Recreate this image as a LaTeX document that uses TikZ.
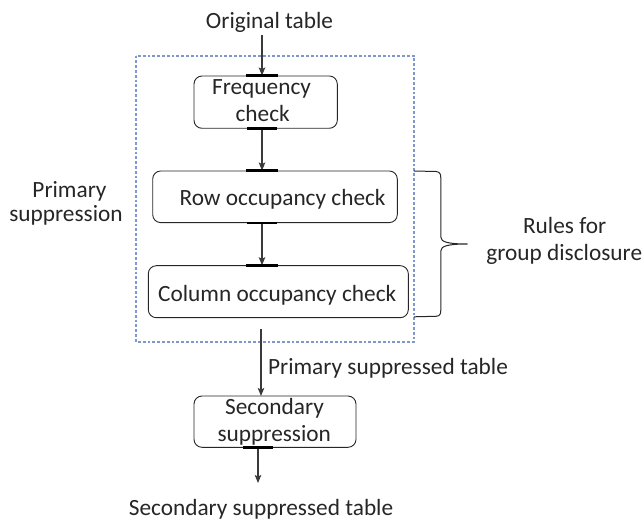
\documentclass[tikz,border=0pt]{standalone}
\usepackage{fontspec}
\setmainfont{Carlito}
\usetikzlibrary{arrows.meta}
\definecolor{inkgray}{HTML}{262626}
\definecolor{linegray}{HTML}{3A3A3A}
\definecolor{groupblue}{HTML}{7F96D2}
\tikzset{
  procbox/.style={draw=inkgray, line width=0.9pt, rounded corners=8pt, inner sep=0pt},
  txt/.style={anchor=base, inner sep=0pt, text=inkgray, font=\fontsize{23.3}{27}\selectfont},
  flow/.style={draw=linegray, line width=1.1pt, -{Stealth[length=8pt, width=6.5pt, inset=1.5pt]}},
  portbar/.style={draw=black, line width=2.6pt},
  groupframe/.style={draw=groupblue, line width=1.7pt, dash pattern=on 2.8pt off 2pt},
  bracestyle/.style={draw=inkgray, line width=1pt}
}
\begin{document}
\begin{tikzpicture}[x=1pt, y=-1pt]
  \useasboundingbox (0,0) rectangle (643,521);

  % group frame around the primary suppression steps
  \draw[groupframe] (136,55.7) rectangle (414,341.7);

  % process boxes
  \node[procbox, minimum width=143.3pt, minimum height=52.3pt] (freq) at (265.65,102.15) {};
  \node[procbox, minimum width=244.6pt, minimum height=51.6pt] (row) at (275,196.8) {};
  \node[procbox, minimum width=260pt, minimum height=52pt] (col) at (278.3,291.7) {};
  \node[procbox, minimum width=162pt, minimum height=51.3pt] (sec) at (275,421.65) {};

  % box texts
  \node[txt] (freqA) at (261.5,95) {Frequency};
  \node[txt] (freqB) at (262.7,122) {check};
  \node[txt] (rowt) at (282.6,205.7) {Row occupancy check};
  \node[txt] (colt) at (277.2,301.7) {Column occupancy check};
  \node[txt] (secA) at (274.5,415) {Secondary};
  \node[txt] (secB) at (274.3,441.7) {suppression};

  % free labels
  \node[txt] (orig) at (269.5,29) {Original table};
  \node[txt] (primA) at (69.5,198) {Primary};
  \node[txt] (primB) at (66,221.5) {suppression};
  \node[txt] (pst) at (388,375) {Primary suppressed table};
  \node[txt] (sst) at (261,515) {Secondary suppressed table};
  \node[txt] (rulesA) at (564.7,234) {Rules for};
  \node[txt] (rulesB) at (564.3,260.5) {group disclosure};

  % connection points
  \coordinate (spine) at (262,0);
  \coordinate (origEnd) at (262,35);
  \coordinate (colOut) at (261,329);
  \coordinate (secIn) at (261,396);
  \coordinate (secOut) at (258,447.3);
  \coordinate (finalEnd) at (258,483);

  % connectors
  \draw[flow] (origEnd) -- (freq.north -| spine);
  \draw[flow] (freq.south -| spine) -- (row.north -| spine);
  \draw[flow] (row.south -| spine) -- (col.north -| spine);
  \draw[flow] (colOut) -- (secIn);
  \draw[flow] (secOut) -- (finalEnd);

  % short thick bars where connectors meet the boxes
  \draw[portbar] (freq.north -| spine) ++(-16,0) -- ++(31.7,0);
  \draw[portbar] (freq.south -| spine) ++(-15,0) -- ++(30,0);
  \draw[portbar] (row.north -| spine) ++(-16,0) -- ++(31.7,0);
  \draw[portbar] (row.south -| spine) ++(-15,0) -- ++(30,0);
  \draw[portbar] (col.north -| spine) ++(-16,0) -- ++(31.7,0);
  \draw[portbar] (sec.south -| secOut) ++(-15,0) -- ++(30,0);

  % curly brace grouping the occupancy checks
  \draw[bracestyle] (414,171) -- (436,171.5)
    .. controls (440,172) and (440.8,174) .. (440.8,178)
    -- (440.8,237)
    .. controls (440.8,242) and (448,244) .. (467.7,244)
    .. controls (448,244) and (440.8,246) .. (440.8,251)
    -- (440.8,310)
    .. controls (440.8,314) and (440,316) .. (436,316.3)
    -- (414,316.8);
\end{tikzpicture}
\end{document}
